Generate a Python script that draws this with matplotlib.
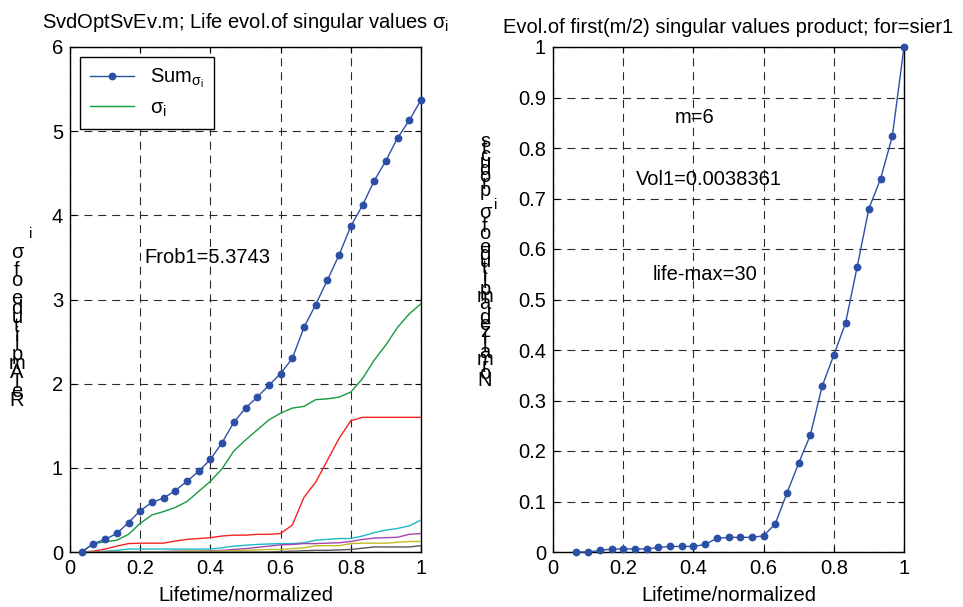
import numpy as np
import matplotlib
matplotlib.use('Agg')
import matplotlib.pyplot as plt

plt.rcParams['font.family'] = ['Liberation Sans', 'DejaVu Sans']
plt.rcParams['mathtext.fontset'] = 'custom'
plt.rcParams['mathtext.rm'] = 'Liberation Sans'
plt.rcParams['mathtext.it'] = 'Liberation Sans:italic'
plt.rcParams['mathtext.default'] = 'regular'
plt.rcParams['lines.scale_dashes'] = False

# ---------------- data ----------------
life_steps = np.arange(1, 31)
life = life_steps / 30.0

sum_sv = [0, 0.10, 0.15, 0.22, 0.35, 0.49, 0.59, 0.64, 0.73, 0.84,
          0.96, 1.10, 1.30, 1.54, 1.71, 1.84, 1.98, 2.12, 2.30, 2.67,
          2.94, 3.23, 3.53, 3.87, 4.12, 4.41, 4.65, 4.92, 5.13, 5.37]
sv1 = [0, 0.10, 0.12, 0.14, 0.21, 0.34, 0.44, 0.48, 0.53, 0.60,
       0.72, 0.84, 0.99, 1.20, 1.33, 1.45, 1.57, 1.65, 1.71, 1.73,
       1.81, 1.82, 1.84, 1.90, 2.06, 2.28, 2.46, 2.67, 2.83, 2.95]
sv2 = [0, 0.01, 0.035, 0.07, 0.10, 0.105, 0.105, 0.105, 0.13, 0.15,
       0.16, 0.17, 0.19, 0.20, 0.20, 0.21, 0.21, 0.22, 0.32, 0.65,
       0.83, 1.09, 1.35, 1.56, 1.60, 1.60, 1.60, 1.60, 1.60, 1.60]
sv3 = [0, 0, 0.01, 0.02, 0.035, 0.035, 0.035, 0.035, 0.035, 0.035,
       0.035, 0.035, 0.05, 0.07, 0.08, 0.09, 0.095, 0.10, 0.10, 0.11,
       0.14, 0.15, 0.16, 0.16, 0.19, 0.23, 0.26, 0.28, 0.31, 0.38]
sv4 = [0, 0, 0, 0, 0, 0, 0, 0.005, 0.01, 0.01,
       0.012, 0.015, 0.02, 0.03, 0.04, 0.055, 0.07, 0.085, 0.09, 0.10,
       0.10, 0.105, 0.11, 0.125, 0.15, 0.165, 0.17, 0.175, 0.21, 0.22]
sv5 = [0, 0, 0, 0, 0, 0, 0, 0, 0.005, 0.01,
       0.01, 0.01, 0.012, 0.015, 0.02, 0.025, 0.03, 0.03, 0.04, 0.05,
       0.075, 0.075, 0.075, 0.10, 0.105, 0.105, 0.105, 0.115, 0.125, 0.125]
sv6 = [0, 0, 0, 0, 0, 0, 0, 0, 0, 0,
       0, 0, 0, 0, 0, 0, 0, 0.005, 0.01, 0.015,
       0.02, 0.02, 0.025, 0.03, 0.045, 0.06, 0.06, 0.06, 0.06, 0.075]

prod_life = np.arange(2, 31) / 30.0
prod_sv = [0, 0, 0.003, 0.006, 0.006, 0.006, 0.006, 0.009, 0.011, 0.011,
           0.011, 0.015, 0.027, 0.029, 0.029, 0.029, 0.032, 0.056, 0.117, 0.176,
           0.232, 0.328, 0.39, 0.453, 0.565, 0.68, 0.739, 0.823, 1.0]

x_ticks = [0, 0.2, 0.4, 0.6, 0.8, 1]
x_ticklabels = ['0', '0.2', '0.4', '0.6', '0.8', '1']
y1_ticks = [0, 1, 2, 3, 4, 5, 6]
y2_ticks = [0, 0.1, 0.2, 0.3, 0.4, 0.5, 0.6, 0.7, 0.8, 0.9, 1]
y2_ticklabels = ['0', '0.1', '0.2', '0.3', '0.4', '0.5', '0.6', '0.7', '0.8', '0.9', '1']

# ---------------- styling ----------------
W, H = 963, 607
FS = 14.5
blue = '#2c4fa6'
colors = ['#179a3f', '#f52222', '#1fb8c9', '#a444b0', '#c2bb22', '#555555']
grid_kw = dict(color='#2a2a2a', linestyle=(0, (5.8, 4.2)), linewidth=0.8)

fig = plt.figure(figsize=(W / 100, H / 100), dpi=100)
ax1 = fig.add_axes([70 / W, 1 - 552 / H, 351 / W, 505 / H])
ax2 = fig.add_axes([553 / W, 1 - 552 / H, 351 / W, 505 / H])

for ax in (ax1, ax2):
    ax.set_xlim(0, 1)
    ax.set_xticks(x_ticks)
    ax.set_xticklabels(x_ticklabels)
    ax.grid(True, **grid_kw)
    ax.set_axisbelow(True)
    ax.tick_params(direction='in', length=4, width=0.8, labelsize=FS, pad=5,
                   top=True, right=True)
    for s in ax.spines.values():
        s.set_linewidth(1.0)
        s.set_color('black')
    ax.set_xlabel('Lifetime/normalized', fontsize=FS, labelpad=6)

# left panel
ax1.set_ylim(0, 6)
ax1.set_yticks(y1_ticks)
ax1.plot(life, sum_sv, '-o', color=blue, lw=1.0, ms=4.6, clip_on=False,
         label='Sum$_{\\sigma_i}$', zorder=5)
for i, sv in enumerate([sv1, sv2, sv3, sv4, sv5, sv6]):
    ax1.plot(life, sv, '-', color=colors[i], lw=1.0,
             label='$\\sigma_i$' if i == 0 else None, zorder=4)
ax1.set_title('SvdOptSvEv.m; Life evol.of singular values \u03c3$_{i}$',
              fontsize=FS, pad=14)
ax1.text(0.213, 3.5, 'Frob1=5.3743', fontsize=FS, va='center', ha='left')
leg = ax1.legend(loc='upper left', fontsize=FS, fancybox=False, framealpha=1,
                 edgecolor='black', borderaxespad=0.48, handlelength=2.2,
                 handletextpad=0.8, labelspacing=0.4, borderpad=0.5)
leg.get_frame().set_linewidth(1.0)

# right panel
ax2.set_ylim(0, 1)
ax2.set_yticks(y2_ticks)
ax2.set_yticklabels(y2_ticklabels)
ax2.plot(prod_life, prod_sv, '-o', color=blue, lw=1.0, ms=4.6, clip_on=False,
         zorder=5)
ax2.set_title('Evol.of first(m/2) singular values product; for=sier1',
              fontsize=FS, pad=10)
ax2.text(0.348, 0.861, 'm=6', fontsize=FS, va='center', ha='left')
ax2.text(0.236, 0.737, 'Vol1=0.0038361', fontsize=FS, va='center', ha='left')
ax2.text(0.285, 0.549, 'life-max=30', fontsize=FS, va='center', ha='left')

# stacked (unrotated glyph) y-labels, as in the reference
renderer = fig.canvas.get_renderer()


def stack(word, x_px, y_bottom_px, y_top_px, fs):
    s = '\n'.join(reversed(list(word)))
    t = fig.text(x_px / W, 1 - y_bottom_px / H, s, fontsize=fs, ha='center',
                 va='bottom', multialignment='center', linespacing=1.0)
    h1 = t.get_window_extent(renderer).height
    t.set_linespacing(0.5)
    h2 = t.get_window_extent(renderer).height
    b = (h1 - h2) / 0.5
    a = h1 - b
    target = y_bottom_px - y_top_px
    t.set_linespacing(max(0.2, (target - a) / b))
    return t


stack('RelAmplitude of \u03c3', 17, 410, 243, FS)
fig.text(31 / W, 1 - 234 / H, 'i', fontsize=FS * 0.75, ha='center', va='center')

stack('Normalized amplitude of \u03c3', 485, 390, 208, FS)
fig.text(496 / W, 1 - 205 / H, 'i', fontsize=FS * 0.75, ha='center', va='center')
stack('products', 485, 200, 135, FS)

fig.savefig('out.png', dpi=100)
